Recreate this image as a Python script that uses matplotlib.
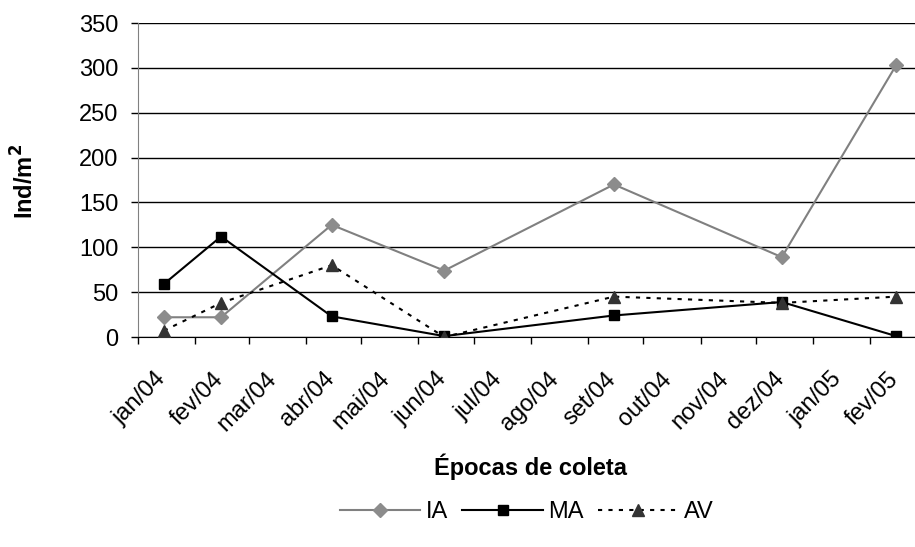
import matplotlib
matplotlib.use("Agg")
import matplotlib.pyplot as plt
import matplotlib.transforms as mtransforms
import numpy as np
import datetime as dt

plt.rcParams['font.family'] = ['Liberation Sans', 'DejaVu Sans']

sample_dates = ["2004-01-15", "2004-02-15", "2004-04-15", "2004-06-15",
                "2004-09-15", "2004-12-15", "2005-02-15"]
IA = [22, 22, 125, 74, 170, 89, 303]
MA = [59, 112, 23, 1, 24, 39, 1]
AV = [7, 38, 80, 0, 45, 38, 45]

month_labels = ["jan/04", "fev/04", "mar/04", "abr/04", "mai/04", "jun/04", "jul/04",
                "ago/04", "set/04", "out/04", "nov/04", "dez/04", "jan/05", "fev/05"]
month_starts = ["2004-01-01", "2004-02-01", "2004-03-01", "2004-04-01", "2004-05-01",
                "2004-06-01", "2004-07-01", "2004-08-01", "2004-09-01", "2004-10-01",
                "2004-11-01", "2004-12-01", "2005-01-01", "2005-02-01"]

x = [dt.datetime.strptime(d, "%Y-%m-%d") for d in sample_dates]
ticks = [dt.datetime.strptime(d, "%Y-%m-%d") for d in month_starts]

FS = 17
fig = plt.figure(figsize=(9.15, 5.47), dpi=100)
ax = fig.add_axes([138/915, 1-337/547, (922-138)/915, (337-23)/547])

ax.plot(x, IA, color='#808080', lw=1.5, marker='D', ms=7, mfc='#8c8c8c', mec='#8c8c8c', label='IA', zorder=3)
ax.plot(x, MA, color='black', lw=1.5, marker='s', ms=7, mfc='black', mec='black', label='MA', zorder=4)
ax.plot(x, AV, color='black', lw=1.5, ls=(0, (2, 3)), marker='^', ms=8, mfc='#333333', mec='#333333', label='AV', zorder=5)

ax.set_ylim(0, 350)
ax.set_yticks(np.arange(0, 351, 50))
ax.set_xlim(dt.datetime(2004, 1, 1), dt.datetime(2005, 3, 1))
ax.set_xticks(ticks)
ax.set_xticklabels([])
ax.tick_params(axis='x', direction='out', length=5, width=1)
ax.tick_params(axis='y', direction='out', length=5, width=1, pad=9, labelsize=FS)

offset = mtransforms.ScaledTranslation(17/100, -31/100, fig.dpi_scale_trans)
for t, lab in zip(ticks, month_labels):
    ax.text(t, 0, lab, transform=ax.get_xaxis_transform() + offset, rotation=45,
            ha='right', va='top', rotation_mode='anchor', fontsize=FS, clip_on=False)

ax.grid(axis='y', color='black', lw=1)
ax.set_axisbelow(True)
for s in ['top', 'right']:
    ax.spines[s].set_visible(False)
ax.spines['left'].set_color('#808080')
ax.spines['bottom'].set_color('black')

fig.text(25/915, 1-181/547, 'Ind/m$^\\mathbf{2}$', fontsize=FS, fontweight='bold', rotation=90,
         ha='center', va='center')
fig.text(530/915, 1-467/547, 'Épocas de coleta', fontsize=FS, fontweight='bold', ha='center', va='center')

leg = fig.legend(loc='center', bbox_to_anchor=(527/915, 1-512/547), ncol=3, frameon=False,
                 fontsize=FS, handlelength=3.4, columnspacing=0.6, handletextpad=0.25)

fig.savefig('out.png', dpi=100)
